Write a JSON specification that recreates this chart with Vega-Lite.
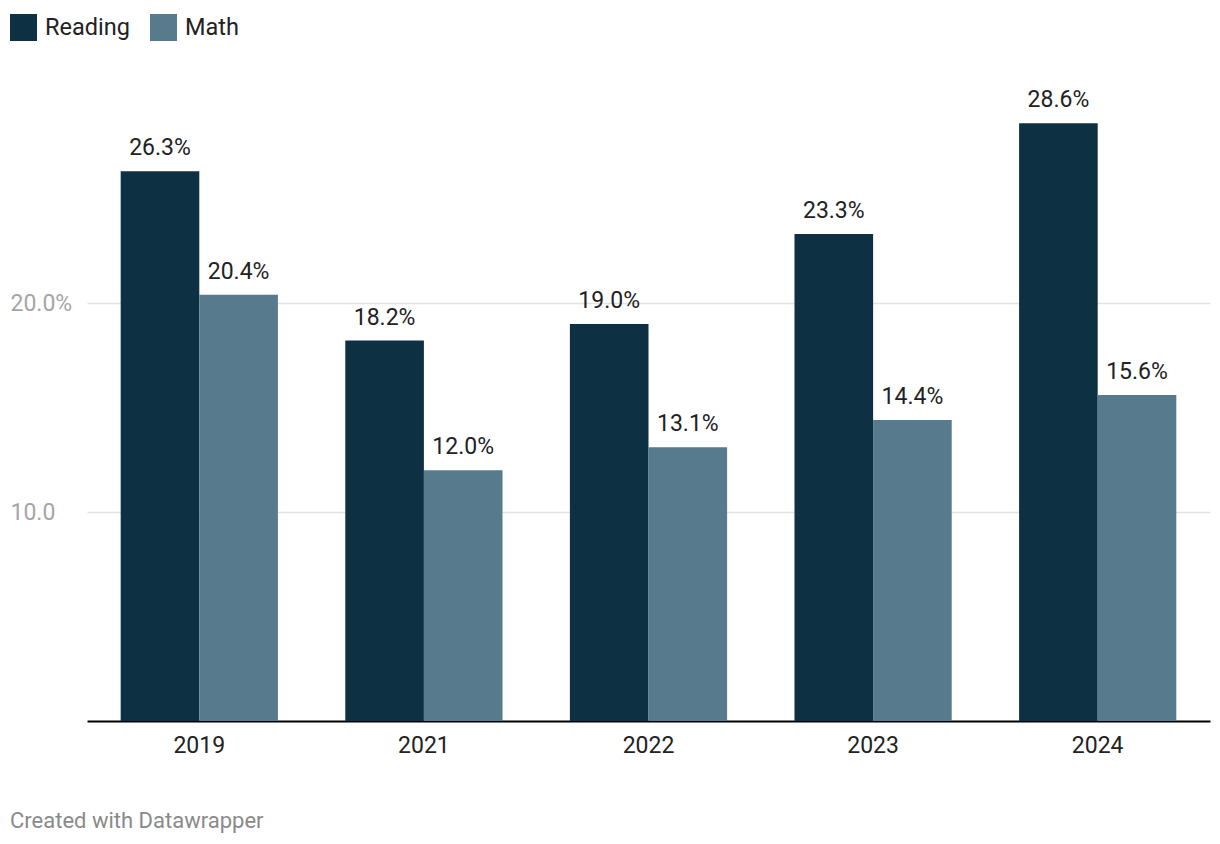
{
  "$schema": "https://vega.github.io/schema/vega-lite/v6.json",
  "autosize": {"type": "none"},
  "width": 1123,
  "height": 627,
  "padding": {"left": 87, "top": 94, "right": 10, "bottom": 123},
  "background": "white",
  "config": {
    "font": "Roboto",
    "view": {"stroke": null}
  },
  "title": {
    "text": "Created with Datawrapper",
    "orient": "bottom",
    "anchor": "start",
    "frame": "group",
    "dx": -77,
    "offset": 54,
    "fontSize": 22,
    "fontWeight": "normal",
    "color": "#8a8a8a",
    "font": "Roboto"
  },
  "data": {
    "values": [
      {"year": "2019", "subject": "Reading", "value": 26.3},
      {"year": "2019", "subject": "Math", "value": 20.4},
      {"year": "2021", "subject": "Reading", "value": 18.2},
      {"year": "2021", "subject": "Math", "value": 12.0},
      {"year": "2022", "subject": "Reading", "value": 19.0},
      {"year": "2022", "subject": "Math", "value": 13.1},
      {"year": "2023", "subject": "Reading", "value": 23.3},
      {"year": "2023", "subject": "Math", "value": 14.4},
      {"year": "2024", "subject": "Reading", "value": 28.6},
      {"year": "2024", "subject": "Math", "value": 15.6}
    ]
  },
  "encoding": {
    "x": {
      "field": "year",
      "type": "nominal",
      "scale": {"paddingInner": 0.3, "paddingOuter": 0.15},
      "axis": {
        "title": null,
        "labelAngle": 0,
        "ticks": false,
        "labelPadding": 13,
        "labelFontSize": 23,
        "labelColor": "#222222",
        "domainColor": "#000000",
        "domainWidth": 2,
        "grid": false
      }
    },
    "xOffset": {
      "field": "subject",
      "type": "nominal",
      "sort": ["Reading", "Math"],
      "scale": {"paddingInner": 0, "paddingOuter": 0}
    },
    "y": {
      "field": "value",
      "type": "quantitative",
      "scale": {"domain": [0, 30], "nice": false},
      "axis": {
        "title": null,
        "values": [10, 20],
        "labelExpr": "datum.value == 20 ? '20.0%' : format(datum.value, '.1f')",
        "labelAlign": "left",
        "labelPadding": 77,
        "ticks": false,
        "domain": false,
        "labelFontSize": 23,
        "labelColor": "#a6a6a6",
        "gridColor": "#e3e3e3",
        "gridWidth": 1.5
      }
    }
  },
  "layer": [
    {
      "mark": {"type": "bar"},
      "encoding": {
        "color": {
          "field": "subject",
          "type": "nominal",
          "sort": ["Reading", "Math"],
          "scale": {"domain": ["Reading", "Math"], "range": ["#0d3142", "#577a8c"]},
          "legend": {
            "title": null,
            "orient": "none",
            "legendX": -77,
            "legendY": -80,
            "direction": "horizontal",
            "symbolType": "square",
            "symbolSize": 729,
            "symbolStrokeWidth": 0,
            "symbolOpacity": 1,
            "labelFontSize": 23.5,
            "labelColor": "#222222",
            "labelOffset": 8,
            "columnPadding": 20,
            "padding": 0
          }
        }
      }
    },
    {
      "mark": {
        "type": "text",
        "baseline": "alphabetic",
        "dy": -16,
        "fontSize": 23,
        "color": "#222222",
        "text": {"expr": "format(datum.value, '.1f') + '%'"}
      },
      "encoding": {
        "detail": {"field": "subject"}
      }
    }
  ]
}
